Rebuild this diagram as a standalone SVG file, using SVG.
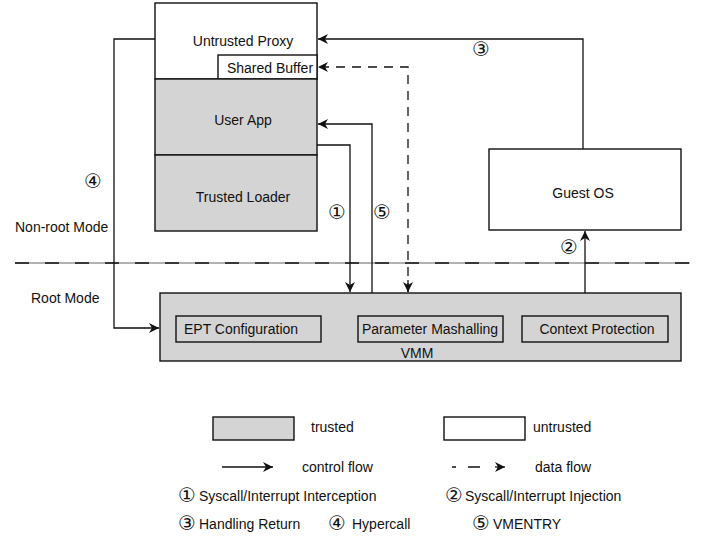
<svg xmlns="http://www.w3.org/2000/svg" width="704" height="538" viewBox="0 0 704 538">
<style>
text{font-family:"Liberation Sans",Arial,sans-serif;font-size:14px;fill:#111}
.c{text-anchor:middle}
.num{font-family:"DejaVu Sans","Noto Sans CJK SC",sans-serif;font-size:20px}
.tr{fill:#d4d4d4;stroke:#111;stroke-width:1.4}
.un{fill:#fff;stroke:#111;stroke-width:1.4}
.ln{fill:none;stroke:#111;stroke-width:1.3}
.dl{fill:none;stroke:#111;stroke-width:1.3;stroke-dasharray:9 7}
</style>
<defs>
<marker id="ah" markerUnits="userSpaceOnUse" markerWidth="12" markerHeight="10" refX="10" refY="5" orient="auto">
<path d="M0,0 L10,5 L0,10 L3,5 z" fill="#111"/>
</marker>
</defs>
<rect width="704" height="538" fill="#fff"/>

<g id="untrusted-proxy">
<rect class="un" x="155" y="3" width="162" height="76"/>
<text class="c" x="243" y="46">Untrusted Proxy</text>
</g>
<g id="shared-buffer">
<rect class="un" x="218" y="55" width="99" height="24"/>
<text class="c" x="270" y="73">Shared Buffer</text>
</g>
<g id="user-app">
<rect class="tr" x="155" y="79" width="162" height="76"/>
<text class="c" x="243" y="125">User App</text>
</g>
<g id="trusted-loader">
<rect class="tr" x="155" y="155" width="162" height="76"/>
<text class="c" x="243" y="202">Trusted Loader</text>
</g>
<g id="guest-os">
<rect class="un" x="489" y="149" width="192" height="81"/>
<text class="c" x="583" y="198">Guest OS</text>
</g>
<g id="mode-labels">
<text x="15" y="232">Non-root Mode</text>
<text x="31" y="303">Root Mode</text>
</g>
<g id="separator">
<line x1="15" y1="263" x2="690" y2="263" stroke="#999" stroke-width="1.5"/>
<line x1="15" y1="263" x2="690" y2="263" stroke="#111" stroke-width="1.5" stroke-dasharray="14 16"/>
</g>
<g id="vmm">
<rect class="tr" x="160" y="293" width="521" height="68"/>
<text class="c" x="417" y="358">VMM</text>
</g>
<g id="ept-configuration">
<rect class="tr" x="176" y="316" width="145" height="26"/>
<text x="184" y="334">EPT Configuration</text>
</g>
<g id="parameter-mashalling">
<rect class="tr" x="358" y="316" width="145" height="26"/>
<text class="c" x="430" y="334">Parameter Mashalling</text>
</g>
<g id="context-protection">
<rect class="tr" x="522" y="316" width="146" height="26"/>
<text class="c" x="597" y="334">Context Protection</text>
</g>

<g id="connectors">
<path class="ln" d="M583,149 V39 H318" marker-end="url(#ah)"/>
<path class="dl" d="M408,292 V67 H318" marker-end="url(#ah)"/>
<path class="ln" d="M408,280 V292" marker-end="url(#ah)"/>
<path class="ln" d="M372,293 V124 H318" marker-end="url(#ah)"/>
<path class="ln" d="M317,145 H350 V292" marker-end="url(#ah)"/>
<path class="ln" d="M585,293 V231" marker-end="url(#ah)"/>
<path class="ln" d="M155,39 H114 V328 H159" marker-end="url(#ah)"/>
<text class="num c" x="481" y="56">③</text>
<text class="num c" x="337" y="219">①</text>
<text class="num c" x="382" y="219">⑤</text>
<text class="num c" x="569" y="254">②</text>
<text class="num c" x="93" y="188">④</text>
</g>

<g id="legend">
<rect class="tr" x="213" y="417" width="81" height="23"/>
<text x="311" y="432">trusted</text>
<rect class="un" x="444" y="417" width="81" height="23"/>
<text x="533" y="432">untrusted</text>
<path class="ln" d="M222,467 H273" marker-end="url(#ah)"/>
<text x="302" y="472">control flow</text>
<path class="ln" d="M452,467 H456 M468,467 H480" />
<path class="ln" d="M495,467 H505" marker-end="url(#ah)"/>
<text x="535" y="472">data flow</text>
<text class="num c" x="187" y="502">①</text>
<text x="199" y="501">Syscall/Interrupt Interception</text>
<text class="num c" x="454" y="502">②</text>
<text x="465" y="501">Syscall/Interrupt Injection</text>
<text class="num c" x="187" y="530">③</text>
<text x="199" y="529">Handling Return</text>
<text class="num c" x="337" y="530">④</text>
<text x="352" y="529">Hypercall</text>
<text class="num c" x="481" y="530">⑤</text>
<text x="493" y="529">VMENTRY</text>
</g>
</svg>
